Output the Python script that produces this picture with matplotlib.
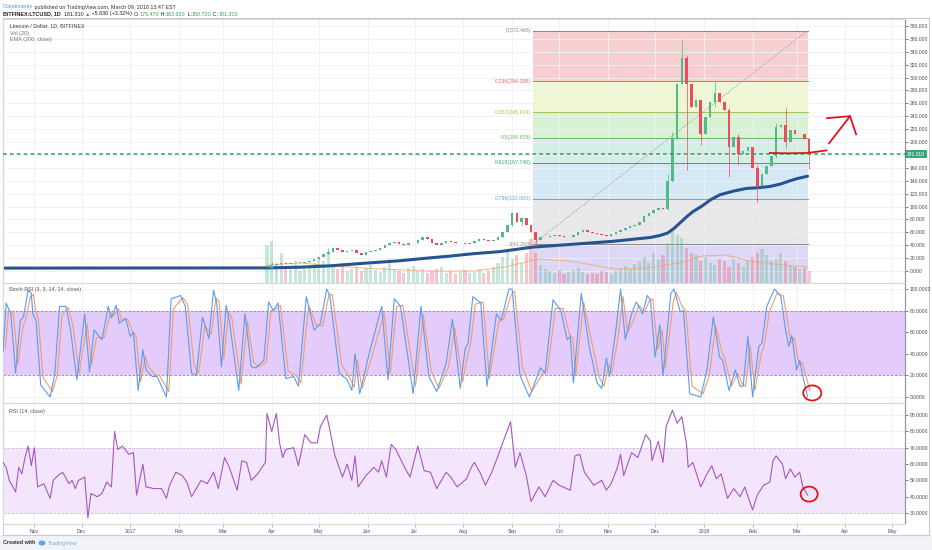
import numpy as np
import pandas as pd
import matplotlib
matplotlib.use('Agg')
import matplotlib.pyplot as plt
from matplotlib.patches import Ellipse, Rectangle
import matplotlib.transforms as mtrans

W, H = 932, 550
plt.rcParams['font.family'] = ['Liberation Sans', 'DejaVu Sans']

# ---------------- data ----------------
start_date = '2016-10-12'      # left edge of the time axis
end_date = '2018-05-09'        # right edge of the time axis
price_start = '2017-03-29'     # first visible candle (3-day candles)
first_open = 4.0
close = [5, 9, 11, 12, 11, 12, 13, 13, 14, 16,
         19, 22, 26, 30, 35, 32, 30, 31, 33, 28,
         25, 29, 31, 33, 36, 40, 44, 45, 42, 40,
         43, 44, 48, 53, 49, 43, 40, 44, 47, 45,
         43, 44, 42, 44, 46, 49, 48, 47, 48, 52,
         60, 72, 90, 76, 82, 72, 60, 48, 52, 53,
         55, 56, 54, 52, 53, 56, 60, 63, 61, 59,
         57, 56, 55, 57, 60, 63, 66, 70, 72, 76,
         85, 90, 95, 98, 96, 140, 205, 290, 330, 290,
         255, 265, 212, 238, 262, 276, 262, 250, 192, 208,
         182, 186, 193, 160, 132, 150, 163, 178, 224, 226,
         200, 218, 212, 212, 205, 181.31]
wick_idx = [0, 1, 13, 52, 54, 57, 85, 86, 88, 89, 92, 95, 98, 100, 104, 108, 110, 115]
wick_lo = [3.8, 5, 26, 70, 70, 41.2, 95, 138, 300, 157, 195, 255, 146, 165, 107, 175, 190, 158.72]
wick_hi = [9, 14, 36, 92, 84, 55, 150, 215, 360, 335, 242, 293, 252, 212, 165, 230, 253, 183.33]
volume = [38, 42, 20, 30, 14, 16, 22, 12, 14, 18,
          20, 26, 22, 30, 18, 14, 20, 12, 14, 16,
          12, 15, 18, 13, 11, 16, 24, 14, 12, 10,
          15, 17, 12, 14, 10, 12, 14, 16, 10, 12,
          9, 11, 13, 10, 11, 14, 10, 12, 16, 20,
          26, 34, 24, 28, 20, 30, 44, 30, 18, 14,
          12, 10, 13, 9, 11, 13, 15, 11, 9, 10,
          9, 12, 11, 9, 12, 15, 17, 14, 19, 22,
          26, 20, 30, 24, 28, 40, 52, 48, 45, 35,
          30, 28, 22, 26, 20, 18, 24, 22, 16, 24,
          20, 16, 22, 26, 30, 34, 28, 22, 24, 30,
          22, 18, 16, 14, 15, 12]
volma_day = [168, 190, 210, 240, 270, 300, 320, 340, 360, 390, 410, 430, 445, 460, 475, 490, 512]
volma = [18, 20, 17, 14, 12, 12, 16, 24, 22, 14, 15, 20, 27, 28, 22, 19, 16]

ema_day = [0, 169, 190, 208, 230, 253, 270, 284, 300, 316, 337, 360, 388, 400, 412, 418, 423,
           427, 431, 435, 439, 445, 450, 456, 465, 473, 480, 488, 495, 501, 505, 512]
ema_val = [4.5, 4.8, 6, 8, 12, 16, 20, 23, 27, 30, 37, 41, 46, 49, 52, 55, 59,
           66, 75, 84, 92, 101, 110, 118, 124, 128, 129, 131, 135, 140, 143, 147]

last_price = 181.310
fib_ratio = ['0', '0.236', '0.382', '0.5', '0.618', '0.786', '1']
fib_price = [372.466, 294.288, 245.924, 206.835, 167.746, 112.093, 41.203]
fib_start, fib_end = '2017-09-14', '2018-03-08'

stoch_day = [0, 2, 5, 8, 11, 13, 16, 18, 19, 21, 24, 30, 33, 36, 40, 43, 47, 52, 55, 58,
             63, 67, 69, 72, 74, 78, 81, 83, 86, 89, 91, 95, 98, 104, 107, 113, 116, 120, 123, 127,
             131, 134, 136, 139, 142, 144, 150, 154, 158, 161, 166, 169, 172, 175, 180, 185, 188, 193, 198, 202,
             206, 208, 214, 219, 222, 224, 227, 233, 241, 245, 249, 253, 261, 266, 271, 276, 282, 286, 291, 294,
             296, 299, 304, 308, 314, 317, 322, 324, 329, 335, 342, 345, 350, 355, 359, 361, 363, 368, 373, 378,
             381, 384, 386, 390, 393, 396, 400, 403, 407, 410, 412, 415, 418, 420, 425, 427, 431, 433, 437, 444,
             448, 452, 456, 458, 462, 466, 469, 471, 474, 477, 481, 483, 486, 491, 495, 498, 500, 502, 505, 507,
             509, 512]
stoch_k = [42, 87, 77, 22, 71, 74, 99, 96, 77, 71, 11, 0, 22, 84, 84, 62, 16, 77, 23, 62,
           53, 84, 73, 85, 68, 73, 56, 60, 6, 44, 25, 19, 19, 0, 91, 94, 84, 22, 20, 74,
           54, 99, 87, 28, 85, 71, 6, 77, 28, 27, 34, 88, 80, 87, 17, 19, 10, 93, 62, 68,
           100, 94, 22, 16, 6, 40, 3, 40, 84, 16, 91, 84, 3, 84, 19, 5, 31, 72, 8, 44,
           50, 93, 87, 10, 77, 71, 100, 100, 20, 0, 27, 22, 90, 80, 53, 56, 13, 96, 47, 13,
           8, 36, 19, 62, 100, 53, 77, 88, 77, 94, 90, 37, 67, 20, 96, 100, 79, 80, 3, 0,
           25, 74, 37, 34, 6, 25, 10, 10, 56, 0, 47, 50, 84, 100, 93, 62, 47, 57, 25, 34,
           19, 0]
stoch_d = [45, 80, 78, 30, 64, 72, 93, 95, 82, 72, 18, 5, 20, 76, 83, 66, 22, 68, 30, 55,
           55, 78, 75, 82, 71, 72, 60, 58, 14, 38, 28, 21, 20, 5, 82, 92, 86, 30, 22, 66,
           58, 92, 88, 35, 78, 74, 12, 70, 32, 28, 32, 80, 81, 85, 24, 20, 13, 85, 66, 66,
           95, 95, 30, 18, 9, 34, 8, 36, 78, 22, 84, 85, 10, 76, 24, 8, 28, 64, 14, 38,
           48, 86, 88, 17, 70, 72, 95, 98, 28, 5, 22, 24, 82, 82, 58, 55, 20, 88, 52, 18,
           10, 30, 22, 56, 93, 60, 72, 85, 79, 90, 91, 44, 62, 27, 88, 97, 83, 80, 10, 3,
           20, 66, 42, 35, 10, 22, 12, 10, 48, 6, 40, 48, 78, 96, 94, 68, 50, 55, 30, 32,
           22, 6]
stoch_d_lag = 1.5

rsi_day = [0, 2, 4, 8, 10, 12, 14, 16, 18, 20, 22, 26, 30, 32, 35, 38, 42, 44, 46, 48,
           52, 54, 56, 60, 63, 66, 69, 71, 73, 76, 80, 83, 85, 89, 91, 96, 101, 104, 106, 110,
           114, 117, 120, 123, 126, 130, 134, 137, 141, 144, 149, 152, 155, 158, 162, 167, 168, 171, 174, 176,
           178, 180, 185, 188, 192, 196, 200, 202, 206, 208, 211, 216, 219, 222, 224, 226, 231, 236, 239, 241,
           244, 247, 250, 255, 259, 264, 268, 272, 276, 279, 282, 285, 289, 295, 298, 300, 304, 307, 311, 315,
           318, 323, 326, 329, 333, 336, 341, 345, 350, 354, 361, 364, 367, 370, 376, 381, 384, 387, 391, 393,
           395, 400, 404, 409, 412, 413, 417, 420, 422, 426, 429, 432, 435, 436, 439, 444, 448, 451, 454, 457,
           461, 465, 469, 472, 477, 480, 484, 488, 490, 492, 496, 498, 501, 504, 507, 509, 512]
rsi_val = [61, 58, 50, 43, 58, 54, 64, 71, 59, 70, 46, 48, 39, 50, 53, 55, 48, 50, 45, 50,
           52, 27, 42, 40, 42, 49, 46, 80, 69, 71, 66, 67, 41, 60, 46, 45, 45, 39, 47, 55,
           53, 49, 40, 45, 50, 48, 55, 45, 64, 58, 44, 62, 61, 50, 54, 61, 91, 80, 91, 73,
           64, 69, 70, 59, 78, 73, 73, 83, 90, 81, 66, 52, 60, 50, 65, 46, 53, 58, 55, 62,
           52, 72, 69, 59, 52, 71, 56, 55, 45, 50, 55, 52, 46, 51, 58, 61, 54, 47, 55, 65,
           73, 86, 58, 67, 53, 37, 46, 40, 50, 47, 44, 65, 66, 55, 47, 50, 44, 48, 58, 66,
           53, 67, 64, 78, 74, 62, 74, 61, 83, 93, 85, 89, 72, 58, 61, 46, 54, 59, 51, 54,
           39, 45, 40, 46, 32, 41, 47, 49, 62, 65, 60, 51, 57, 52, 55, 46, 41]

month_labels = ['Nov', 'Dec', '2017', 'Feb', 'Mar', 'Apr', 'May', 'Jun', 'Jul', 'Aug', 'Sep',
                'Oct', 'Nov', 'Dec', '2018', 'Feb', 'Mar', 'Apr', 'May']

# hand drawn annotations (day offset, value)
note_line_day = [488, 500, 512, 524]
note_line_val = [183, 182.5, 183, 187]
arrow_shaft_day = [525.7, 539]
arrow_shaft_val = [198, 240]
arrow_head_day = [524.4, 539, 542.9]
arrow_head_val = [237, 240, 212]

# ---------------- helpers ----------------
t0 = pd.Timestamp(start_date)
def day(d):
    return (pd.Timestamp(d) - t0).days

price_day = np.array([day(d) for d in pd.date_range(price_start, periods=len(close), freq='3D')])
closes = np.array(close, dtype=float)
opens = np.concatenate([[first_open], closes[:-1]])
month_day = [day(d) for d in pd.date_range('2016-11-01', '2018-05-01', freq='MS')]
x_lo, x_hi = 0, day(end_date)

fig = plt.figure(figsize=(W / 100, H / 100), dpi=100)
fig.patch.set_facecolor('white')

def px_axes(l, t, r, b):
    return fig.add_axes([l / W, 1 - b / H, (r - l) / W, (b - t) / H])

# footer band and frame
fig.patches.append(Rectangle((0, 0), 1, 1 - 535 / H, transform=fig.transFigure,
                             facecolor='#f1f3f6', edgecolor='none', zorder=-5))
fig.patches.append(Rectangle((3 / W, 1 - 535 / H), 926 / W, (535 - 18) / H, transform=fig.transFigure,
                             facecolor='white', edgecolor='#c8cbd1', lw=0.8, zorder=-4))

GRID = '#eef0f3'
AXC = '#9598a1'
TXT = '#4a4a4a'
FS = 3.6

def style(ax, ylo, yhi, yticks, fmt, hide=()):
    ax.set_xlim(x_lo, x_hi)
    ax.set_ylim(ylo, yhi)
    ax.yaxis.tick_right()
    ax.set_yticks(yticks)
    ax.set_yticklabels(['' if v in hide else fmt % v for v in yticks])
    ax.set_xticks(month_day)
    ax.tick_params(axis='y', labelsize=FS, colors=TXT, length=2, width=0.5, pad=1.5)
    ax.tick_params(axis='x', length=0, labelbottom=False)
    ax.grid(True, color=GRID, lw=0.6, zorder=0)
    ax.set_axisbelow(True)
    for s in ['top', 'bottom', 'left']:
        ax.spines[s].set_color('#d6d8dd')
        ax.spines[s].set_linewidth(0.8)
    ax.spines['right'].set_color(AXC)
    ax.spines['right'].set_linewidth(0.9)
    ax.patch.set_alpha(0)

# ---------------- main panel ----------------
ax = px_axes(3, 19, 905, 283)
style(ax, -18.6, 390.7, list(range(0, 381, 20)), '%.3f', hide=(180,))

# fibonacci bands
fs_d, fe_d = day(fib_start), day(fib_end)
band_colors = ['#f7cfd1', '#eef6d2', '#d9f1d3', '#d3efe3', '#d4e8f6', '#e8e8ea']
line_colors = ['#8a8a8a', '#e2686f', '#a9c05a', '#68b86c', '#2fa58f', '#5ea8e6', '#8a8a8a']
for k in range(6):
    ax.fill_between([fs_d, fe_d], fib_price[k + 1], fib_price[k], color=band_colors[k], lw=0, zorder=0.5)
ax.fill_between([fs_d, fe_d], -18.6, fib_price[6], color='#dcd8f6', lw=0, zorder=0.5)
for k in range(7):
    ax.plot([fs_d, fe_d], [fib_price[k]] * 2, color=line_colors[k], lw=0.7, zorder=1)
    ax.text(fs_d - 1, fib_price[k], '%s(%.3f)' % (fib_ratio[k], fib_price[k]), color=line_colors[k],
            fontsize=3.8, ha='right', va='center', zorder=5)
ax.plot([fs_d, fe_d], [fib_price[6], fib_price[0]], color='#9a9a9a', lw=0.6, ls=(0, (1.5, 1.5)), zorder=1.5)

# volume (bars measured in panel pixels)
vtr = mtrans.blended_transform_factory(ax.transData, ax.transAxes)
up = closes >= opens
vcol = np.where(up, '#53b987', '#eb4d5c')
ax.bar(price_day, np.array(volume) / 264.0, width=2.0, bottom=0, color=vcol, alpha=0.32,
       transform=vtr, zorder=1.2, lw=0)
ax.plot(volma_day, np.array(volma) / 264.0, color='#f3a46b', lw=0.7, alpha=0.8, transform=vtr, zorder=1.3)

# EMA
ax.plot(ema_day, ema_val, color='#27548e', lw=2.2, zorder=2.5, solid_capstyle='round')

# candles
ccol = np.where(up, '#53b987', '#eb4d5c')
ax.vlines(price_day, np.minimum(opens, closes), np.maximum(opens, closes), color=ccol, lw=0.5, zorder=2.8)
for i, wi in enumerate(wick_idx):
    ax.vlines(price_day[wi], wick_lo[i], wick_hi[i], color=ccol[wi], lw=0.5, zorder=2.8)
body_h = np.where(np.abs(closes - opens) < 0.8, 0.8, closes - opens)
ax.bar(price_day, body_h, bottom=opens, width=1.7, color=ccol, lw=0, zorder=3)

# last price line and label
ax.axhline(last_price, color='#2d9f71', lw=1.1, ls=(0, (2.5, 2)), zorder=4)
ax.text(1.002, last_price, '%.3f' % last_price, transform=mtrans.blended_transform_factory(ax.transAxes, ax.transData),
        fontsize=FS, color='white', va='center', ha='left', zorder=6, clip_on=False,
        bbox=dict(boxstyle='square,pad=0.35', fc='#3aa77a', ec='none'))

# hand drawn red notes
ax.plot(note_line_day, note_line_val, color='#e4141b', lw=1.3, zorder=6, clip_on=False)
ax.plot(arrow_shaft_day, arrow_shaft_val, color='#e4141b', lw=1.3, zorder=6, clip_on=False)
ax.plot(arrow_head_day, arrow_head_val, color='#e4141b', lw=1.3, zorder=6, clip_on=False)

for j, s in enumerate(['Litecoin / Dollar, 1D, BITFINEX', 'Vol (20)', 'EMA (200, close)']):
    ax.text(7 / 902, 1 - (7 + 7 * j) / 264, s, transform=ax.transAxes, fontsize=3.9,
            color='#3a3a3a' if j == 0 else '#707070', va='center', ha='left')

# ---------------- stoch RSI ----------------
ax2 = px_axes(3, 283, 905, 403)
style(ax2, -5.6, 105.6, list(range(0, 101, 20)), '%.4f')
ax2.axhspan(20, 80, color='#e3cbfb', lw=0, zorder=0.6)
for lv in (20, 80):
    ax2.axhline(lv, color='#9b78c9', lw=0.6, ls=(0, (3, 2)), zorder=1)
ax2.plot(np.array(stoch_day) + stoch_d_lag, stoch_d, color='#f39c68', lw=0.8, zorder=2)
ax2.plot(stoch_day, stoch_k, color='#5b9bf0', lw=0.8, zorder=3)
ax2.add_patch(Ellipse((515, 3.7), 11.5, 14, fill=False, ec='#e4141b', lw=1.3, zorder=6))
ax2.text(6 / 902, 1 - 6 / 120, 'Stoch RSI (3, 3, 14, 14, close)', transform=ax2.transAxes,
         fontsize=3.9, color='#555555', va='center', ha='left')

# ---------------- RSI ----------------
ax3 = px_axes(3, 403, 905, 524)
style(ax3, 23.3, 97.4, list(range(30, 91, 10)), '%.4f')
ax3.axhspan(30, 70, color='#f3e6fc', lw=0, zorder=0.6)
for lv in (30, 70):
    ax3.axhline(lv, color='#c7c0cc', lw=0.6, ls=(0, (3, 2)), zorder=1)
ax3.plot(rsi_day, rsi_val, color='#a657c2', lw=0.8, zorder=3)
ax3.add_patch(Ellipse((513, 41.6), 10.8, 9.2, fill=False, ec='#e4141b', lw=1.3, zorder=6))
ax3.text(6 / 902, 1 - 8 / 121, 'RSI (14, close)', transform=ax3.transAxes,
         fontsize=3.9, color='#555555', va='center', ha='left')
ax3.tick_params(axis='x', length=2, width=0.5, color='#9598a1', labelbottom=True,
                labelsize=FS, labelcolor=TXT, pad=1.5)
ax3.set_xticklabels(month_labels)

# ---------------- header / footer text ----------------
renderer = fig.canvas.get_renderer()
def seq_text(x_px, y_px, parts, size):
    x = x_px
    for s, c, w in parts:
        t = fig.text(x / W, 1 - y_px / H, s, color=c, fontsize=size, weight=w, va='center', ha='left')
        x += t.get_window_extent(renderer).width

seq_text(3, 7, [('Coindiments', '#4a9be6', 'normal'),
                (' published on TradingView.com, March 09, 2018 13:47 EST', '#333333', 'normal')], 3.9)
G = '#34a853'
seq_text(3, 14, [('BITFINEX:LTCUSD, 1D', '#222222', 'bold'), ('  181.310 ', '#222222', 'normal'),
                 ('\u25b2', G, 'normal'), (' +5.830 (+3.32%) ', '#222222', 'normal'),
                 ('O:', '#222222', 'normal'), ('175.470', G, 'normal'),
                 (' H:', '#222222', 'normal'), ('183.330', G, 'normal'),
                 (' L:', '#222222', 'normal'), ('158.720', G, 'normal'),
                 (' C:', '#222222', 'normal'), ('181.310', G, 'normal')], 3.9)
seq_text(3, 543, [('Created with ', '#333333', 'bold')], 3.9)
fig.patches.append(Ellipse((42 / W, 1 - 543 / H), 7 / W, 5 / H, transform=fig.transFigure,
                           facecolor='#5aa9e6', edgecolor='none'))
fig.text(48 / W, 1 - 543 / H, 'TradingView', color='#6fb3e8', fontsize=3.9, va='center', ha='left')

fig.savefig('out.png', dpi=100)
